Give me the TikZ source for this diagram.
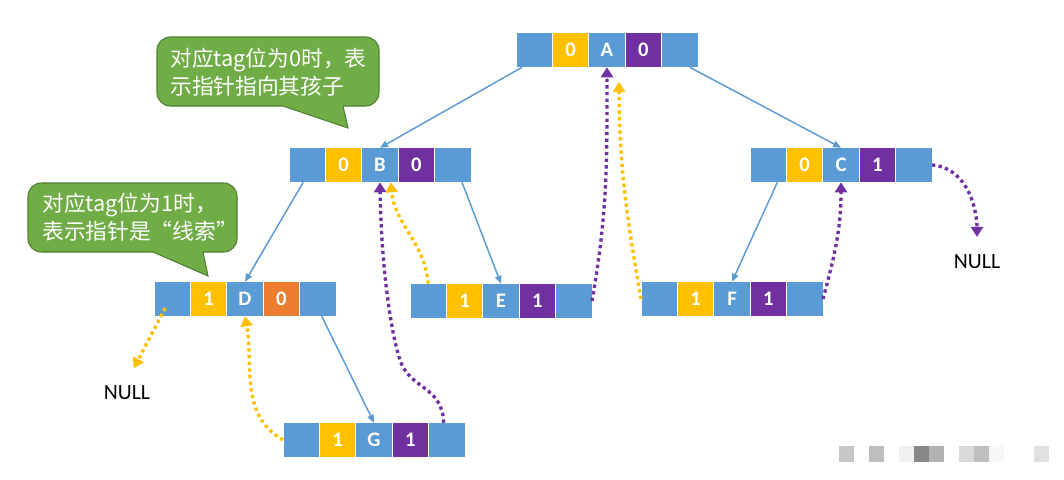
\documentclass[tikz,border=0pt]{standalone}
\usepackage{fontspec}
\setmainfont{Carlito}
\newfontfamily\cjk{Noto Sans CJK SC}
\usepackage{tikz}
\usetikzlibrary{positioning}
\usetikzlibrary{arrows.meta}
\tikzset{>=latex}
\definecolor{cblue}{HTML}{5B9BD5}
\definecolor{cyel}{HTML}{FFC000}
\definecolor{cpurp}{HTML}{7030A0}
\definecolor{corange}{HTML}{ED7D31}
\definecolor{cgreen}{HTML}{70AD47}
\definecolor{cgreenline}{HTML}{507E32}
\tikzset{cell/.style={draw=white, line width=.6pt, minimum width=27.3pt, minimum height=25.9pt, inner sep=0pt, outer sep=0pt, text=white, font=\bfseries\fontsize{15.5}{18}\selectfont}}
\newcommand{\tnode}[6]{%
    \node[cell, fill=cblue](#1-1)at(#2){};
    \node[cell, fill=cyel, right=0pt of #1-1](#1-2){#3};
    \node[cell, fill=cblue, right=0pt of #1-2](#1-3){#4};
    \node[cell, fill=#6, right=0pt of #1-3](#1-4){#5};
    \node[cell, fill=cblue, right=0pt of #1-4](#1-5){};
}
\begin{document}
\begin{tikzpicture}[x=.75pt, y=-.75pt,
    tree/.style={draw=cblue, line width=1.1pt, -{Triangle[length=6pt, width=5pt]}},
    ythread/.style={draw=cyel, line width=2.5pt, dash pattern=on 2.5pt off 2.5pt, -{Triangle[length=7.5pt, width=9pt]}},
    pthread/.style={ythread, draw=cpurp},
    note/.style={fill=cgreen, draw=cgreenline, line width=.8pt},
    notetext/.style={text=white, align=left, inner sep=0pt, anchor=west, font=\cjk\fontsize{16.3}{21}\selectfont}]
    \useasboundingbox(0,0)rectangle(1064,479);
    \tnode{A}{534.2,50}{0}{A}{0}{cpurp}
    \tnode{B}{307.2,165}{0}{B}{0}{cpurp}
    \tnode{C}{768.2,165}{0}{C}{1}{cpurp}
    \tnode{D}{172.2,299}{1}{D}{0}{corange}
    \tnode{E}{428.2,301}{1}{E}{1}{cpurp}
    \tnode{F}{659.2,299}{1}{F}{1}{cpurp}
    \tnode{G}{301.2,440}{1}{G}{1}{cpurp}
    \node[font=\fontsize{16.3}{18}\selectfont](nullD)at(127,393){NULL};
    \node[font=\fontsize{16.3}{18}\selectfont](nullC)at(977,262){NULL};
    \draw[tree](A-1.235)--(B-3.north);
    \draw[tree](A-5.300)--(C-3.north);
    \draw[tree](B-1.257)--(D-3.north);
    \draw[tree](B-5.298)--(E-3.north);
    \draw[tree](C-1.298)--(F-3.north);
    \draw[tree](D-5.283)--(G-3.north);
    \draw[ythread, shorten >=11pt]([shift={(-7,9)}]D-1.center)--(nullD.north);
    \draw[ythread](G-1.west)to[out=150, in=280](D-3.south);
    \draw[pthread](G-5.100)..controls(442,385)and(410,390)..(400,360)..controls(390,330)and(381,260)..(B-3.south);
    \draw[ythread](E-1.north)to[out=95, in=275](B-3.302);
    \draw[pthread](E-5.east)to[out=80, in=270](A-3.south);
    \draw[ythread, shorten >=11pt](F-1.west)to[out=100, in=270](A-3.305);
    \draw[pthread](F-5.east)to[out=75, in=270](C-3.south);
    \draw[pthread, shorten >=10pt](C-5.east)to[out=-5, in=90](nullC.north);
    \draw[note](343,106)[rounded corners=10pt]--(379,106)--(379,37)--(157,37)--(157,106)[sharp corners]--(283,106)--(348,128)--cycle;
    \node[notetext](tagzero)at(170,72.5){对应tag位为0时，表\\示指针指向其孩子};
    \draw[note](203,252)[rounded corners=10pt]--(237,252)--(237,183)--(28,183)--(28,252)[sharp corners]--(153,252)--(208,276)--cycle;
    \node[notetext](tagone)at(42,217){对应tag位为1时，\\表示指针是“线索”};
    \foreach \x/\c in {839/22, 869/26, 899/6, 914/47, 929/30, 959/15, 974/25, 989/3, 1034/12}
        \fill[black!\c](\x,446)rectangle++(15,16);
\end{tikzpicture}
\end{document}
